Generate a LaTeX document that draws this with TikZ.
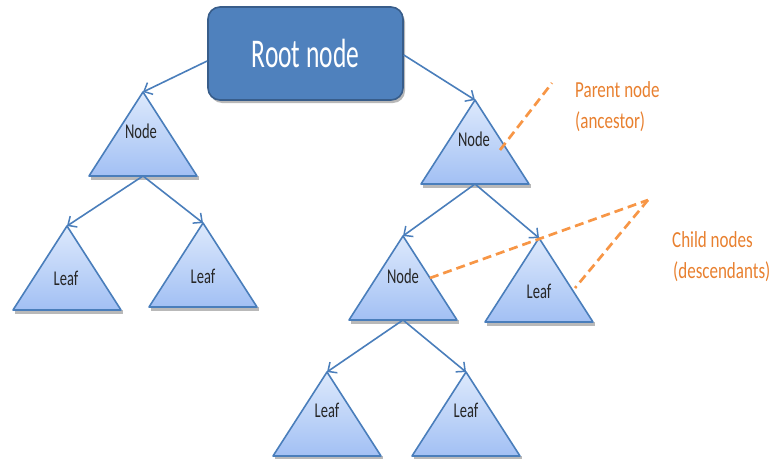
\documentclass[tikz,border=0pt]{standalone}
\usepackage{fontspec}
\setmainfont{Carlito}
\usepackage{graphicx}
\usetikzlibrary{arrows.meta,shadows}
\definecolor{rootfill}{HTML}{4F81BD}
\definecolor{rootdraw}{HTML}{385D8A}
\definecolor{edgec}{HTML}{4A7EBB}
\definecolor{tritop}{HTML}{DDE9FC}
\definecolor{tribot}{HTML}{A2C0F4}
\definecolor{orng}{HTML}{F79646}
\definecolor{orngtxt}{HTML}{E8802F}
\newcommand{\ystr}[2][1.45]{\scalebox{1}[#1]{#2}}
\tikzset{
  tri/.pic={
    \fill[gray!55] (-52,84) rectangle (56,87.5);
    \shade[top color=tritop,bottom color=tribot,draw=edgec,line width=1.6pt,line join=round]
      (0,0) -- (54,84) -- (-54,84) -- cycle;
    \coordinate (-apex) at (0,0);
    \coordinate (-base) at (0,84);
  },
  conn/.style={draw=edgec,line width=1.6pt,-{Straight Barb[length=7pt,width=13pt,line width=1.5pt]}},
  lbl/.style={font=\fontsize{14.5}{16}\selectfont,text=black!85,inner sep=0pt},
  otxt/.style={font=\fontsize{17}{19}\selectfont,text=orngtxt,inner sep=0pt,anchor=base west},
  dashln/.style={draw=orng,line width=2.7pt,dash pattern=on 9pt off 5pt},
  rootbox/.style={draw=rootdraw,fill=rootfill,line width=1.6pt,rounded corners=12pt,
    minimum width=195pt,minimum height=93pt,text=white,
    font=\fontsize{25.5}{28}\selectfont,
    drop shadow={shadow xshift=2pt,shadow yshift=-3pt,fill=gray!70,opacity=0.8}},
}
\begin{document}
\begin{tikzpicture}[x=1pt,y=-1pt]
\useasboundingbox (0,0) rectangle (771,458);
\node[rootbox] (root) at (305.5,53.5) {\ystr[1.6]{Root node}};

\pic (t1) at (143,92) {tri};
\pic (l1) at (67,226) {tri};
\pic (l2) at (203,223) {tri};
\pic (t2) at (475,100) {tri};
\pic (n3) at (403,236) {tri};
\pic (l3) at (539,238) {tri};
\pic (l4) at (327,372) {tri};
\pic (l5) at (466,372) {tri};

\node[lbl] (t1t) at (141,131) {\ystr{Node}};
\node[lbl] (l1t) at (66,278) {\ystr{Leaf}};
\node[lbl] (l2t) at (203,276) {\ystr{Leaf}};
\node[lbl] (t2t) at (474,139) {\ystr{Node}};
\node[lbl] (n3t) at (403,276) {\ystr{Node}};
\node[lbl] (l3t) at (539,291) {\ystr{Leaf}};
\node[lbl] (l4t) at (327,410) {\ystr{Leaf}};
\node[lbl] (l5t) at (466,410) {\ystr{Leaf}};

\draw[conn] ([yshift=-7.5pt]root.west) -- (t1-apex);
\draw[conn] ([yshift=-1.5pt]root.east) -- (t2-apex);
\draw[conn] (t1-base) -- (l1-apex);
\draw[conn] (t1-base) -- (l2-apex);
\draw[conn] (t2-base) -- (n3-apex);
\draw[conn] (t2-base) -- (l3-apex);
\draw[conn] (n3-base) -- (l4-apex);
\draw[conn] (n3-base) -- (l5-apex);

\node[otxt] (pn1) at (575,97) {\ystr[1.35]{Parent node}};
\node[otxt] (pn2) at (575,128) {\ystr[1.35]{(ancestor)}};
\node[otxt] (cn1) at (672,247) {\ystr[1.35]{Child nodes}};
\node[otxt] (cn2) at (673,278) {\ystr[1.35]{(descendants)}};

\coordinate (d1s) at (500,150);
\coordinate (d1e) at (552,83);
\coordinate (d2s) at (430,278);
\coordinate (cc) at (648,200);
\coordinate (d3e) at (575,288);
\draw[dashln] (d1s) -- (d1e);
\draw[dashln] (d2s) -- (cc);
\draw[dashln] (cc) -- (d3e);
\end{tikzpicture}
\end{document}
